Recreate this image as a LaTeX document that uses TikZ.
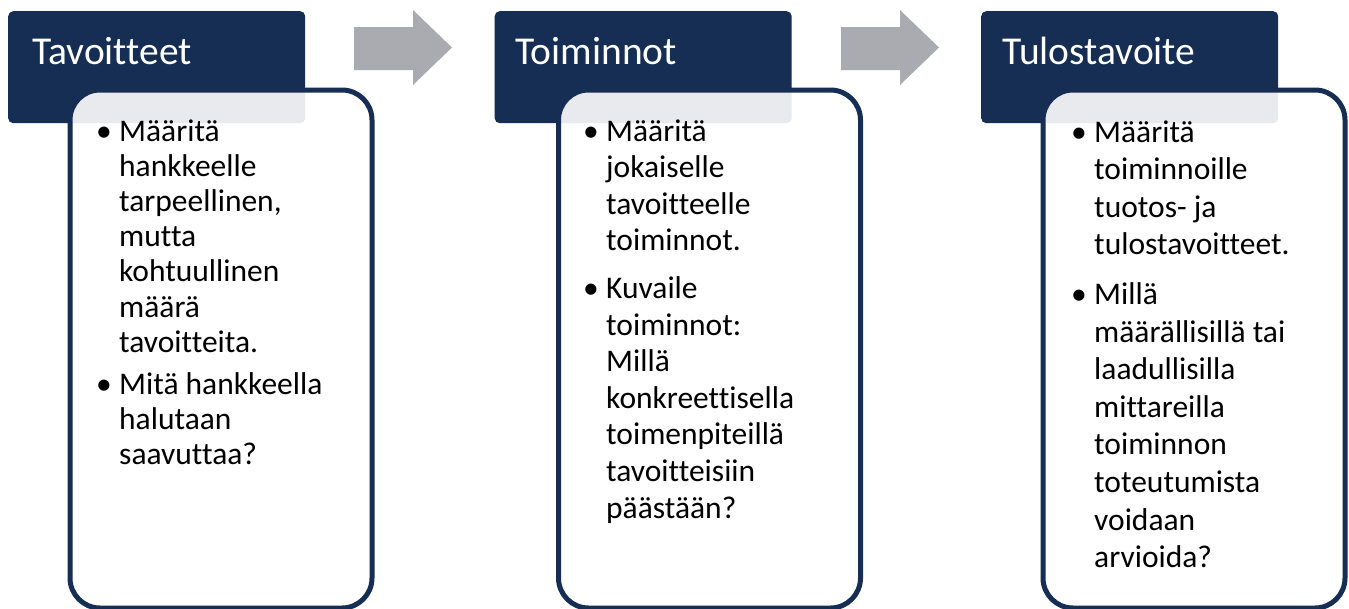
\documentclass[tikz,border=0pt]{standalone}
\usepackage{fontspec}
\setmainfont{Carlito}[Ligatures=NoCommon]
\usetikzlibrary{positioning}
\definecolor{tummasininen}{RGB}{22,45,84}
\definecolor{nuoliharmaa}{RGB}{169,171,176}

% one bullet point, lines broken by hand
\newcommand\kohta[1]{\par\noindent\makebox[23pt][l]{\textbullet}\parbox[t]{215pt}{\raggedright\strut#1\strut}\par}

\tikzset{
  otsikko/.style={fill=tummasininen,rounded corners=5pt,minimum width=297pt,minimum height=112pt,anchor=north west,inner sep=0pt},
  otsikkoteksti/.style={text=white,font=\fontsize{39.5}{48}\selectfont,anchor=base west,inner sep=0pt},
  laatikko/.style={draw=tummasininen,line width=5pt,fill=white,fill opacity=0.9,text opacity=1,rounded corners=30pt,minimum width=302pt,minimum height=518pt,anchor=north west,inner sep=0pt},
  teksti/.style={anchor=base west,inner sep=0pt,font=\fontsize{31.5}{#1}\selectfont},
  nuoli/.style={fill=nuoliharmaa}
}

\begin{document}
\begin{tikzpicture}[x=1pt,y=-1pt]
\useasboundingbox (0,0) rectangle (1349,608);
% arrows between the columns
\fill[nuoli] (354,27) -- (413,27) -- (413,10) -- (452,47.5) -- (413,85) -- (413,70) -- (354,70) -- cycle;
\fill[nuoli] (841,27) -- (900,27) -- (900,10) -- (939,47.5) -- (900,85) -- (900,70) -- (841,70) -- cycle;

% Tavoitteet
\node[otsikko] (ots1) at (8,11) {};
\node[otsikkoteksti] (ots1t) at (32,64) {Tavoitteet};
\node[laatikko] (laat1) at (67.5,87.5) {};
\node[teksti=35.2] (teksti1) at (96,141) {\parbox[t]{240pt}{%
  \kohta{Määritä\\hankkeelle\\tarpeellinen,\\mutta\\kohtuullinen\\määrä\\tavoitteita.}
  \vspace{6pt}
  \kohta{Mitä hankkeella\\halutaan\\saavuttaa?}}};

% Toiminnot
\node[otsikko] (ots2) at (494.5,11) {};
\node[otsikkoteksti] (ots2t) at (515,64) {Toiminnot};
\node[laatikko] (laat2) at (556,87.5) {};
\node[teksti=36.6] (teksti2) at (583,141) {\parbox[t]{240pt}{%
  \kohta{Määritä\\jokaiselle\\tavoitteelle\\toiminnot.}
  \vspace{10pt}
  \kohta{Kuvaile\\toiminnot:\\Millä\\konkreettisella\\toimenpiteillä\\tavoitteisiin\\päästään?}}};

% Tulostavoite
\node[otsikko] (ots3) at (981,11) {};
\node[otsikkoteksti] (ots3t) at (1002,64) {Tulostavoite};
\node[laatikko] (laat3) at (1040.5,87.5) {};
\node[teksti=37.6] (teksti3) at (1071,142) {\parbox[t]{240pt}{%
  \kohta{Määritä\\toiminnoille\\tuotos- ja\\tulostavoitteet.}
  \vspace{11pt}
  \kohta{Millä\\määrällisillä tai\\laadullisilla\\mittareilla\\toiminnon\\toteutumista\\voidaan\\arvioida?}}};
\end{tikzpicture}
\end{document}
